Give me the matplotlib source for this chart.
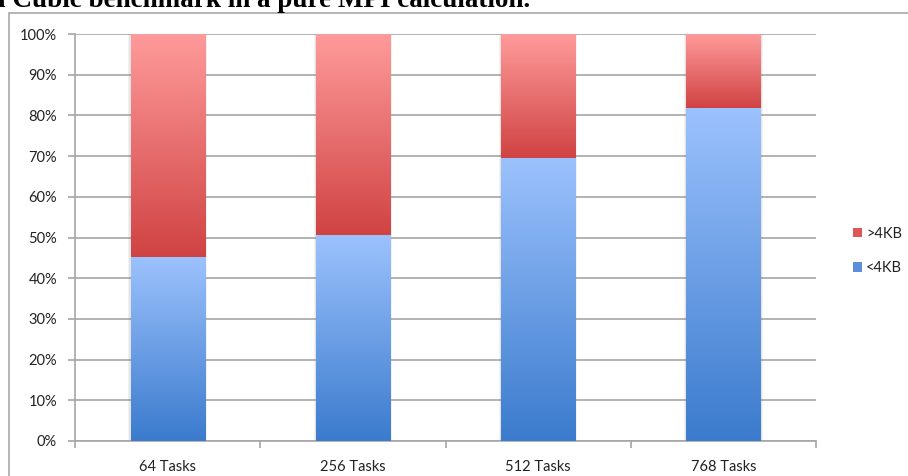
import numpy as np
import matplotlib
matplotlib.use("Agg")
import matplotlib.pyplot as plt
from matplotlib.colors import to_rgb
from matplotlib.patches import Rectangle, Patch

categories = ["64 Tasks", "256 Tasks", "512 Tasks", "768 Tasks"]
small_msgs = [45.2, 50.5, 69.6, 81.8]   # <4KB share (%)
large_msgs = [54.8, 49.5, 30.4, 18.2]   # >4KB share (%)
y_ticks = [0, 10, 20, 30, 40, 50, 60, 70, 80, 90, 100]

plt.rcParams["font.family"] = ["Lato", "DejaVu Sans"]

W, H = 908, 476
fig = plt.figure(figsize=(W / 100, H / 100), dpi=100)

# outer chart frame
fig.patches.append(Rectangle((9 / W, -0.1), 1.0, (H - 12.5) / H + 0.1,
                             transform=fig.transFigure, fill=False,
                             edgecolor="#b0b0b0", linewidth=1.3))

fig.text(530 / W, (H - 7) / H, "Full Cubic benchmark in a pure MPI calculation.",
         ha="right", va="baseline", fontsize=19.5, fontweight="bold",
         family="Liberation Serif", color="black")

ax = fig.add_axes([75 / W, 35 / H, 741 / W, 407 / H])

x = np.arange(len(categories))
width = 0.4

blue_top, blue_bot = to_rgb("#9cc2fd"), to_rgb("#3b7bcd")
red_top, red_bot = to_rgb("#ff9b9b"), to_rgb("#d04343")


def gradient_fill(rect, c_top, c_bot):
    x0, y0 = rect.get_x(), rect.get_y()
    w, h = rect.get_width(), rect.get_height()
    t = np.linspace(0, 1, 256)[:, None]
    img = (1 - t) * np.array(c_top) + t * np.array(c_bot)
    img = img[:, None, :]
    im = ax.imshow(img, extent=[x0, x0 + w, y0, y0 + h], origin="upper",
                   aspect="auto", zorder=3, interpolation="bilinear")
    im.set_clip_path(rect)


bars_small = ax.bar(x, small_msgs, width, color="none", edgecolor="none",
                    zorder=3, label="<4KB")
bars_large = ax.bar(x, large_msgs, width, bottom=small_msgs, color="none",
                    edgecolor="none", zorder=3, label=">4KB")

# soft shadow behind each stacked column
for i in range(len(categories)):
    for off, a in ((0.012, 0.10), (0.006, 0.12)):
        ax.add_patch(Rectangle((x[i] - width / 2 - off, 0),
                               width + 2 * off, small_msgs[i] + large_msgs[i],
                               facecolor="#808080", edgecolor="none",
                               alpha=a, zorder=2.5))

for r in bars_small:
    gradient_fill(r, blue_top, blue_bot)
for r in bars_large:
    gradient_fill(r, red_top, red_bot)

ax.set_xlim(-0.5, len(categories) - 0.5)
ax.set_ylim(0, 100)
ax.set_yticks(y_ticks)
ax.set_yticklabels([f"{v}%" for v in y_ticks])
ax.yaxis.grid(True, color="#a6a6a6", linewidth=1.2, zorder=0)
ax.set_axisbelow(True)

ax.set_xticks(x)
ax.set_xticklabels(categories)
ax.set_xticks(np.arange(-0.5, len(categories)), minor=True)
ax.tick_params(axis="x", which="major", length=0, pad=14, labelsize=10.5,
               colors="#222222")
ax.tick_params(axis="x", which="minor", length=5, width=1.2, color="#a6a6a6",
               direction="out")
ax.tick_params(axis="y", length=5, width=1.2, color="#a6a6a6", pad=8,
               labelsize=10.5, labelcolor="#222222")

for s in ("top", "right"):
    ax.spines[s].set_visible(False)
for s in ("left", "bottom"):
    ax.spines[s].set_color("#a6a6a6")
    ax.spines[s].set_linewidth(1.2)

handles = [Patch(facecolor="#e05555", edgecolor="none", label=">4KB"),
           Patch(facecolor="#5b8fdc", edgecolor="none", label="<4KB")]
fig.legend(handles=handles, loc="center left",
           bbox_to_anchor=(840 / W, (H - 251) / H), frameon=False,
           fontsize=10.5, handlelength=0.6, handleheight=0.6,
           handletextpad=0.3, labelspacing=1.4, labelcolor="#222222")

fig.savefig("out.png", dpi=100)
